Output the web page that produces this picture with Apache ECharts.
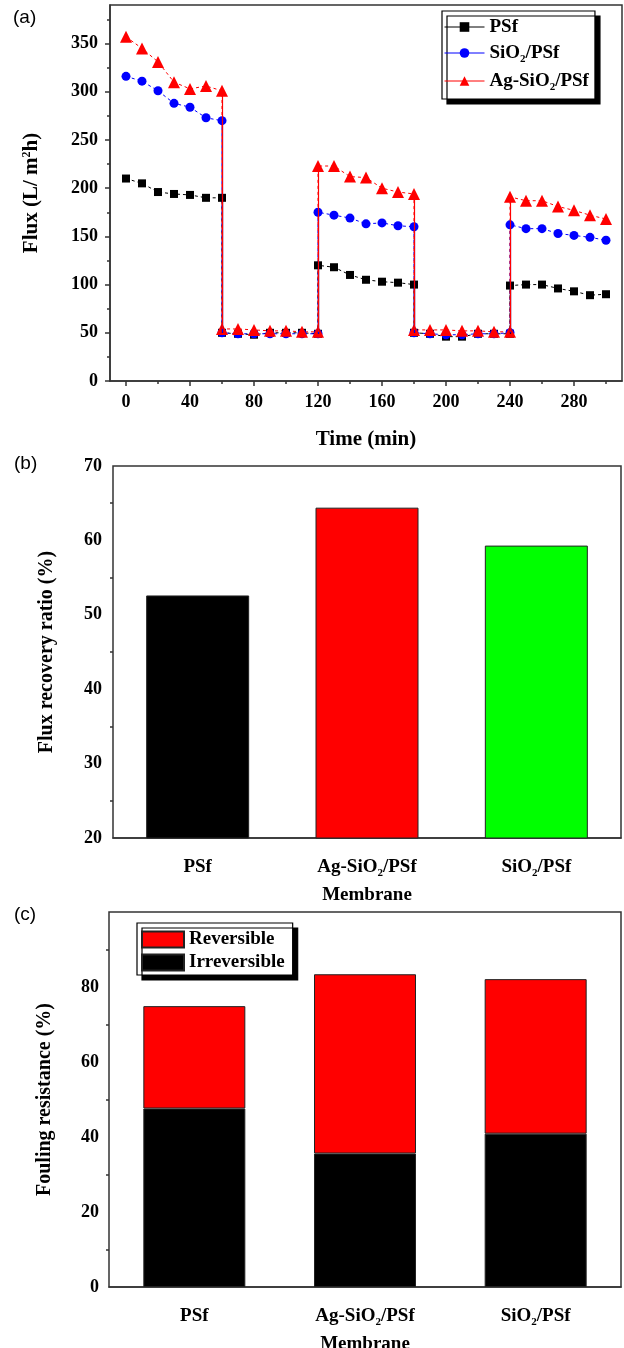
<!DOCTYPE html>
<html>
<head>
<meta charset="utf-8">
<script src="https://cdn.jsdelivr.net/npm/echarts@6/dist/echarts.min.js"></script>
<style>
  html, body { margin: 0; padding: 0; background: #fff; }
  #chart-view { width: 624px; height: 1348px; }
</style>
</head>
<body>
<div id="chart-view"></div>
<script>
  // (a) flux, 5 stages of 60 min, one reading every 10 min
  const stageStarts = [0, 60, 120, 180, 240]
  const stageOffsets = [0, 10, 20, 30, 40, 50, 60]
  const fluxPSf = [
    [210, 205, 196, 194, 193, 190, 190],
    [50, 49, 48, 50, 50, 50, 49],
    [120, 118, 110, 105, 103, 102, 100],
    [50, 49, 46, 46, 49, 49, 49],
    [99, 100, 100, 96, 93, 89, 90]
  ]
  const fluxSiO2 = [
    [316, 311, 301, 288, 284, 273, 270],
    [50, 49, 49, 49, 49, 49, 49],
    [175, 172, 169, 163, 164, 161, 160],
    [50, 49, 48, 48, 49, 49, 50],
    [162, 158, 158, 153, 151, 149, 146]
  ]
  const fluxAgSiO2 = [
    [357, 345, 331, 310, 303, 306, 301],
    [54, 54, 53, 52, 52, 51, 51],
    [223, 223, 212, 211, 200, 196, 194],
    [53, 53, 53, 52, 52, 51, 51],
    [191, 187, 187, 181, 177, 172, 168]
  ]
  const timeLabels = [0, 40, 80, 120, 160, 200, 240, 280]
  const timeMinor = [20, 60, 100, 140, 180, 220, 260, 300]
  const fluxLabels = [0, 50, 100, 150, 200, 250, 300, 350]
  const fluxMinor = [25, 75, 125, 175, 225, 275, 325, 375]

  // (b) and (c)
  const membranes = ['PSf', 'Ag-SiO2/PSf', 'SiO2/PSf']
  const recoveryRatio = [52.6, 64.4, 59.3]
  const recoveryColors = ['#000000', '#ff0000', '#00ff00']
  const irreversible = [47.6, 35.6, 40.9]
  const reversible = [27.3, 47.8, 41.2]

  const serif = 'Liberation Serif'
  const axisColor = '#333'

  function subFmt(name) {
    return name.replace('SiO2', 'SiO{sub|2}')
  }
  const subRich = {
    sub: { fontSize: 11, fontFamily: serif, fontWeight: 'bold', color: '#000', verticalAlign: 'top', padding: [11, 0, 0, 0] }
  }

  function toPoints(stages) {
    let arr = []
    stages.forEach((vals, k) => {
      vals.forEach((v, j) => arr.push([stageStarts[k] + stageOffsets[j], v]))
    })
    return arr
  }
  function jumps(stages) {
    let arr = []
    for (let k = 1; k < stages.length; k++) {
      arr.push([{ coord: [stageStarts[k], stages[k - 1][6]] }, { coord: [stageStarts[k], stages[k][0]] }])
    }
    return arr
  }
  function lineSeries(name, stages, color, symbol, size) {
    return {
      name: name,
      type: 'line',
      xAxisIndex: 0,
      yAxisIndex: 0,
      data: toPoints(stages),
      symbol: symbol,
      symbolSize: size,
      itemStyle: { color: color },
      lineStyle: { color: color, width: 1, type: [3, 3] },
      markLine: {
        silent: true,
        symbol: ['none', 'none'],
        label: { show: false },
        lineStyle: { color: color, width: 1.2, type: 'solid' },
        data: jumps(stages)
      }
    }
  }

  const tickLabel = { fontFamily: serif, fontWeight: 'bold', fontSize: 18, color: '#000' }
  const nameStyle = { fontFamily: serif, fontWeight: 'bold', fontSize: 20, color: '#000' }
  const line = { onZero: false, lineStyle: { color: axisColor, width: 1.5 } }
  const noLine = { show: false, onZero: false }
  const frame = { show: true, borderColor: axisColor, borderWidth: 1.5, containLabel: false, outerBoundsMode: 'none' }

  let chart = echarts.init(document.getElementById('chart-view'))
  let option = {
    animation: false,
    backgroundColor: '#fff',
    graphic: [
      { type: 'text', left: 13, top: 8, style: { text: '(a)', font: '19px "Liberation Sans"', fill: '#000' } },
      { type: 'text', left: 14, top: 454, style: { text: '(b)', font: '19px "Liberation Sans"', fill: '#000' } },
      { type: 'text', left: 14, top: 905, style: { text: '(c)', font: '19px "Liberation Sans"', fill: '#000' } }
    ],
    grid: [
      { ...frame, left: 110, top: 5, width: 512, height: 376 },
      { ...frame, left: 113, top: 466, width: 508, height: 372 },
      { ...frame, left: 109, top: 912, width: 512, height: 375 }
    ],
    legend: [
      {
        data: ['PSf', 'SiO2/PSf', 'Ag-SiO2/PSf'],
        orient: 'vertical',
        left: 442, top: 11,
        padding: [6, 6, 6, 2],
        itemWidth: 40, itemHeight: 12, itemGap: 6,
        backgroundColor: '#fff',
        borderColor: '#000', borderWidth: 1.2,
        shadowColor: '#000', shadowOffsetX: 5, shadowOffsetY: 5, shadowBlur: 0,
        lineStyle: { type: 'solid', width: 1 },
        formatter: subFmt,
        textStyle: { fontFamily: serif, fontWeight: 'bold', fontSize: 19, color: '#000', lineHeight: 20, rich: subRich }
      },
      {
        data: ['Reversible', 'Irreversible'],
        orient: 'vertical',
        left: 137, top: 923,
        padding: [7, 8, 3, 4],
        icon: 'rect',
        itemWidth: 42, itemHeight: 16, itemGap: 4,
        backgroundColor: '#fff',
        borderColor: '#000', borderWidth: 1.2,
        shadowColor: '#000', shadowOffsetX: 5, shadowOffsetY: 5, shadowBlur: 0,
        textStyle: { fontFamily: serif, fontWeight: 'bold', fontSize: 19, color: '#000', lineHeight: 16 }
      }
    ],
    xAxis: [
      {
        gridIndex: 0, type: 'value', min: -10, max: 310,
        name: 'Time (min)', nameLocation: 'middle', nameGap: 48,
        nameTextStyle: { ...nameStyle, fontSize: 21 },
        axisLine: line,
        axisTick: { length: 5, lineStyle: { color: axisColor, width: 1.5 }, customValues: timeLabels },
        axisLabel: { ...tickLabel, margin: 12, customValues: timeLabels },
        splitLine: { show: false }
      },
      {
        gridIndex: 0, type: 'value', min: -10, max: 310, position: 'bottom',
        axisLine: noLine,
        axisTick: { length: 3, lineStyle: { color: axisColor, width: 1.5 }, customValues: timeMinor },
        axisLabel: { show: false },
        splitLine: { show: false }
      },
      {
        gridIndex: 1, type: 'category', data: membranes,
        name: 'Membrane', nameLocation: 'middle', nameGap: 48,
        nameTextStyle: { ...nameStyle, fontSize: 19 },
        axisLine: line,
        axisTick: { alignWithLabel: true, length: 6, lineStyle: { color: axisColor, width: 1.5 } },
        axisLabel: { ...tickLabel, fontSize: 19, margin: 19, lineHeight: 20, interval: 0, formatter: subFmt, rich: subRich }
      },
      {
        gridIndex: 1, type: 'category', data: membranes, position: 'bottom',
        axisLine: noLine,
        axisTick: { length: 3, lineStyle: { color: axisColor, width: 1.5 } },
        axisLabel: { show: false }
      },
      {
        gridIndex: 2, type: 'category', data: membranes,
        name: 'Membrane', nameLocation: 'middle', nameGap: 48,
        nameTextStyle: { ...nameStyle, fontSize: 19 },
        axisLine: line,
        axisTick: { alignWithLabel: true, length: 6, lineStyle: { color: axisColor, width: 1.5 } },
        axisLabel: { ...tickLabel, fontSize: 19, margin: 19, lineHeight: 20, interval: 0, formatter: subFmt, rich: subRich }
      },
      {
        gridIndex: 2, type: 'category', data: membranes, position: 'bottom',
        axisLine: noLine,
        axisTick: { length: 3, lineStyle: { color: axisColor, width: 1.5 } },
        axisLabel: { show: false }
      }
    ],
    yAxis: [
      {
        gridIndex: 0, type: 'value', min: 0, max: 390,
        name: 'Flux (L/ m{sup|2}h)', nameLocation: 'middle', nameGap: 67,
        nameTextStyle: {
          ...nameStyle, fontSize: 21, lineHeight: 22,
          rich: { sup: { fontFamily: serif, fontWeight: 'bold', fontSize: 12, color: '#000', verticalAlign: 'top' } }
        },
        axisLine: line,
        axisTick: { length: 5, lineStyle: { color: axisColor, width: 1.5 }, customValues: fluxLabels },
        axisLabel: { ...tickLabel, margin: 12, customValues: fluxLabels },
        splitLine: { show: false }
      },
      {
        gridIndex: 0, type: 'value', min: 0, max: 390, position: 'left',
        axisLine: noLine,
        axisTick: { length: 3, lineStyle: { color: axisColor, width: 1.5 }, customValues: fluxMinor },
        axisLabel: { show: false },
        splitLine: { show: false }
      },
      {
        gridIndex: 1, type: 'value', min: 20, max: 70, interval: 10,
        name: 'Flux recovery ratio (%)', nameLocation: 'middle', nameGap: 56,
        nameTextStyle: nameStyle,
        axisLine: line,
        axisTick: { length: 5, lineStyle: { color: axisColor, width: 1.5 } },
        minorTick: { show: true, splitNumber: 2, length: 3, lineStyle: { color: axisColor, width: 1.5 } },
        axisLabel: { ...tickLabel, margin: 11 },
        splitLine: { show: false }
      },
      {
        gridIndex: 2, type: 'value', min: 0, max: 100, interval: 20,
        name: 'Fouling resistance (%)', nameLocation: 'middle', nameGap: 54,
        nameTextStyle: nameStyle,
        axisLine: line,
        axisTick: { length: 5, lineStyle: { color: axisColor, width: 1.5 } },
        minorTick: { show: true, splitNumber: 2, length: 3, lineStyle: { color: axisColor, width: 1.5 } },
        axisLabel: { ...tickLabel, margin: 10, showMaxLabel: false },
        splitLine: { show: false }
      }
    ],
    series: [
      lineSeries('PSf', fluxPSf, '#000000', 'rect', 8),
      lineSeries('SiO2/PSf', fluxSiO2, '#0000ff', 'circle', 9),
      lineSeries('Ag-SiO2/PSf', fluxAgSiO2, '#ff0000', 'triangle', 12),
      {
        name: 'Flux recovery ratio',
        type: 'bar',
        xAxisIndex: 2, yAxisIndex: 2,
        barWidth: 103,
        data: recoveryRatio.map((v, i) => ({
          value: v,
          itemStyle: { color: recoveryColors[i], borderColor: '#222', borderWidth: 1 }
        }))
      },
      {
        name: 'Irreversible',
        type: 'bar',
        xAxisIndex: 4, yAxisIndex: 3,
        stack: 'fouling',
        barWidth: 102,
        itemStyle: { color: '#000000', borderColor: '#222', borderWidth: 1 },
        data: irreversible
      },
      {
        name: 'Reversible',
        type: 'bar',
        xAxisIndex: 4, yAxisIndex: 3,
        stack: 'fouling',
        barWidth: 102,
        itemStyle: { color: '#ff0000', borderColor: '#222', borderWidth: 1 },
        data: reversible
      }
    ]
  }
  chart.setOption(option)
</script>
</body>
</html>
